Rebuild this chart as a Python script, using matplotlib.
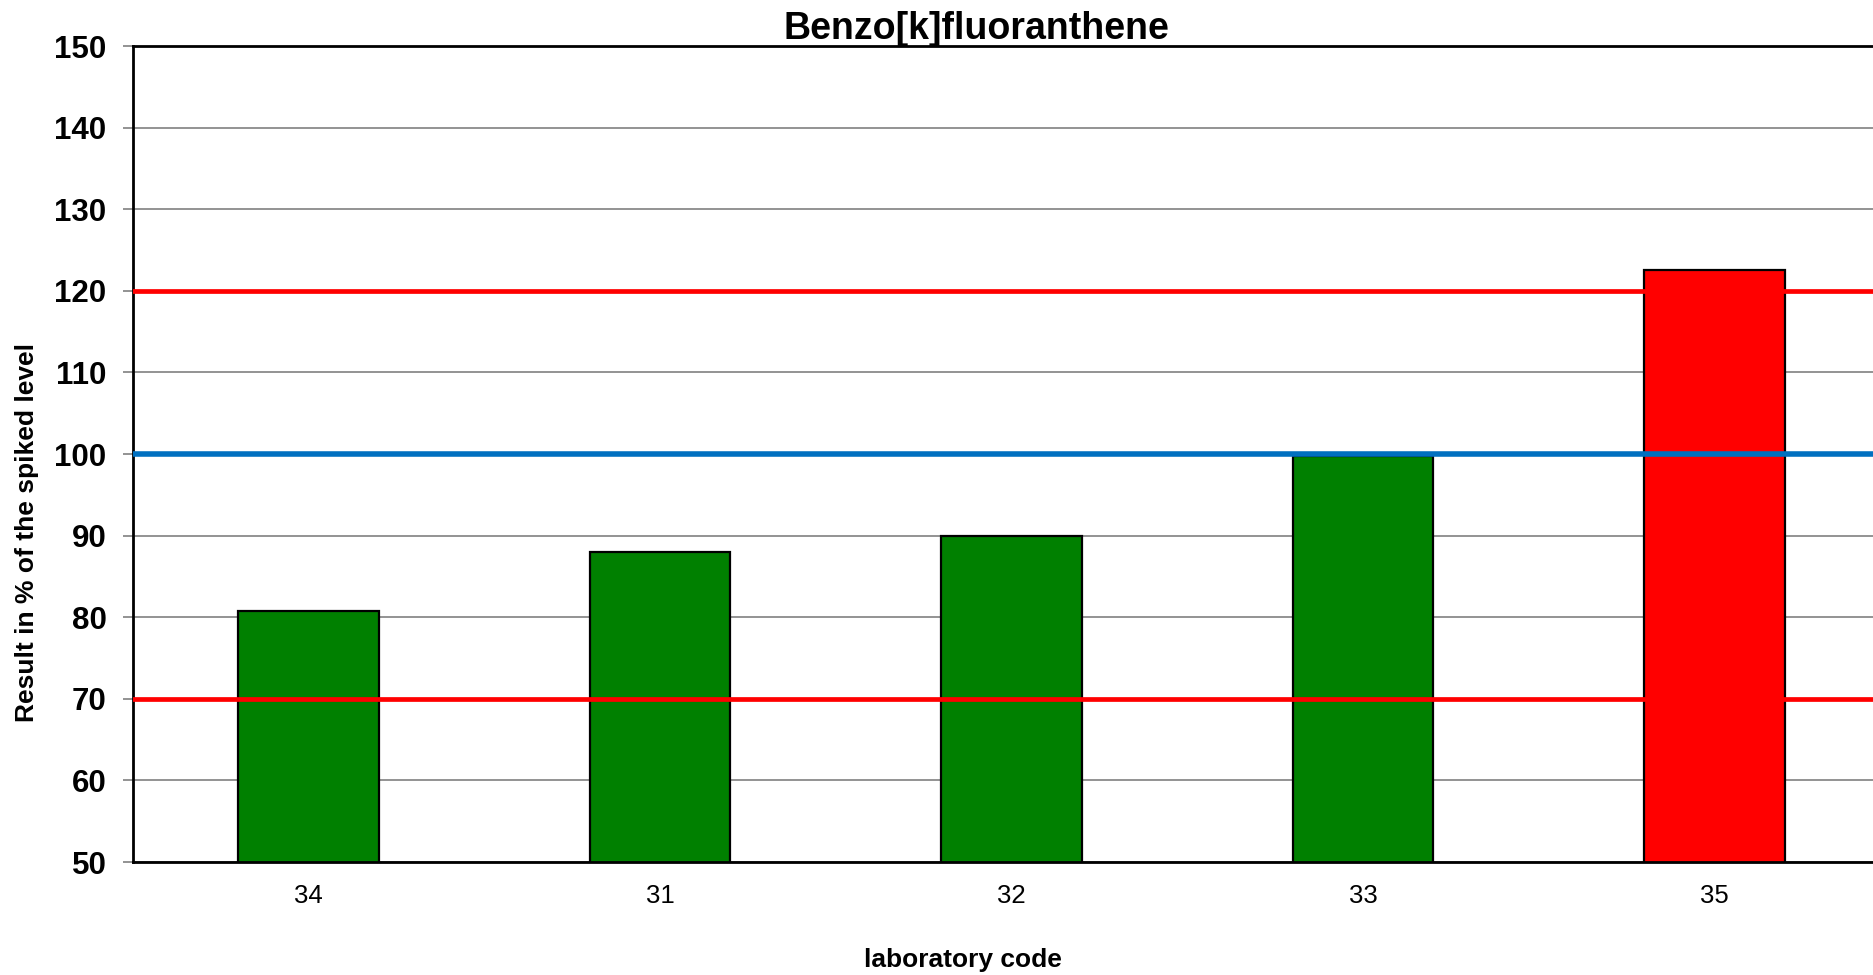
import matplotlib
matplotlib.use("Agg")
import matplotlib.pyplot as plt

plt.rcParams['font.family'] = ['Liberation Sans', 'DejaVu Sans']

labs = ["34", "31", "32", "33", "35"]
values = [80.7, 88.0, 90.0, 99.8, 122.5]
bar_colors = ["#008000", "#008000", "#008000", "#008000", "#FF0000"]
lower_limit = 70
upper_limit = 120
target = 100
yticks = [50, 60, 70, 80, 90, 100, 110, 120, 130, 140, 150]

W, H = 1874, 975
fig = plt.figure(figsize=(W / 100, H / 100), dpi=100)
ax = fig.add_axes([133 / W, 1 - 862 / H, (1890 - 133) / W, (862 - 46) / H])

x = list(range(len(labs)))
ax.bar(x, values, width=0.40, color=bar_colors, edgecolor="black", linewidth=1.6, zorder=2)
ax.axhline(upper_limit, color="#FF0000", linewidth=3.4, zorder=3)
ax.axhline(lower_limit, color="#FF0000", linewidth=3.4, zorder=3)
ax.axhline(target, color="#0070C0", linewidth=4.0, zorder=3)

ax.set_xlim(-0.5, len(labs) - 0.5)
ax.set_ylim(50, 150)
ax.set_yticks(yticks)
ax.set_yticklabels([str(v) for v in yticks], fontsize=22.5, fontweight="bold")
ax.set_xticks(x)
ax.set_xticklabels(labs, fontsize=18.5)
ax.tick_params(axis="x", length=0, pad=16)
ax.tick_params(axis="y", length=7, width=1.2, color="#808080", pad=12, direction="out")
ax.yaxis.grid(True, color="#808080", linewidth=1.2, zorder=0)
ax.set_axisbelow(True)
for s in ["left", "bottom", "top", "right"]:
    ax.spines[s].set_linewidth(2)
    ax.spines[s].set_color("black")

fig.text(976 / W, 1 - 29 / H, "Benzo[k]fluoranthene", fontsize=27, fontweight="bold",
         ha="center", va="center")
fig.text(963 / W, 1 - 960 / H, "laboratory code", fontsize=19, fontweight="bold",
         ha="center", va="center")
fig.text(27 / W, 1 - 532 / H, "Result in % of the spiked level", fontsize=19, fontweight="bold",
         ha="center", va="center", rotation=90)

fig.savefig("out.png", dpi=100)
